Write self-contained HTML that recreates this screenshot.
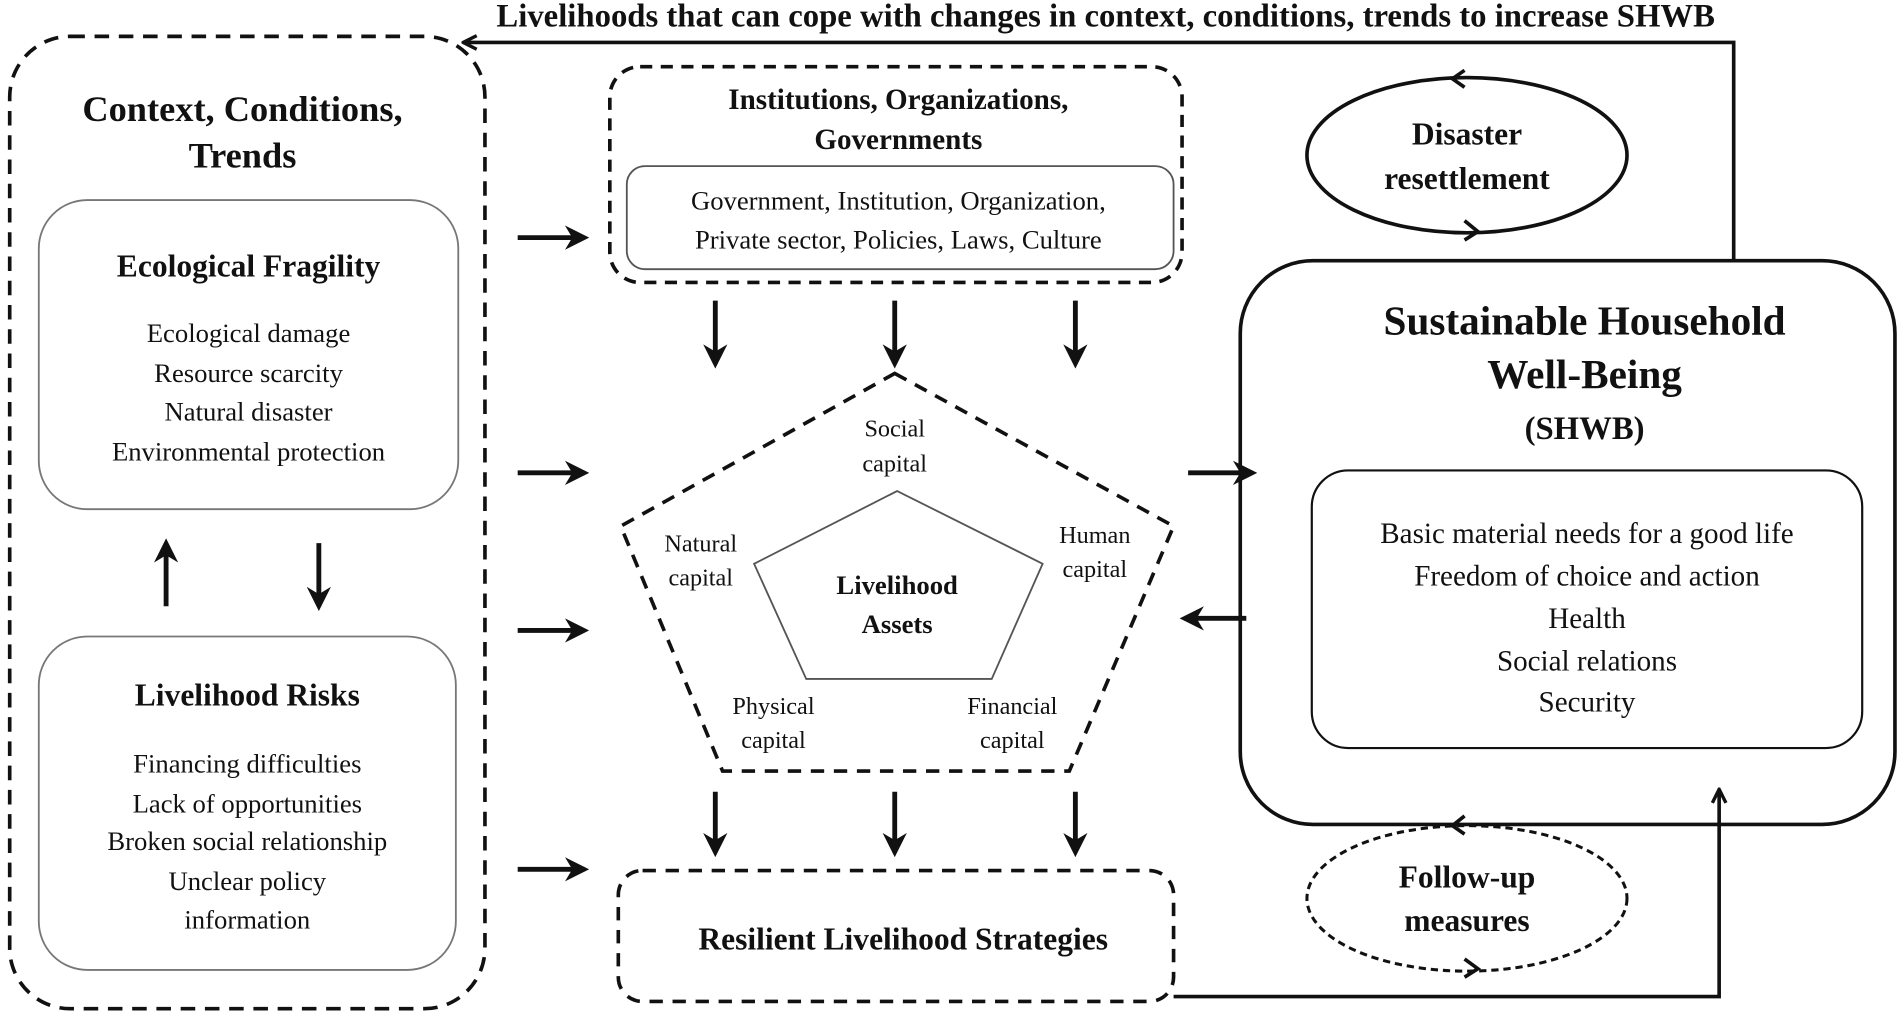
<!DOCTYPE html>
<html><head><meta charset="utf-8"><style>
html,body{margin:0;padding:0;background:#fff;}
svg{display:block;}
svg text{font-family:"Liberation Serif","Times New Roman",serif;fill:#111;}
.b{font-weight:bold;}
</style></head><body>
<svg width="1901" height="1016" viewBox="0 0 1568 838" preserveAspectRatio="none" xmlns="http://www.w3.org/2000/svg" font-family="Liberation Serif, Times New Roman, serif">
<defs>
<marker id="ah" viewBox="0 0 10 10" refX="8" refY="5" markerWidth="5" markerHeight="5" orient="auto"><path d="M0,0 L10,5 L0,10 L3,5 z" fill="#111"/></marker>
<marker id="ah2" viewBox="0 0 10 10" refX="9" refY="5" markerWidth="14" markerHeight="14" markerUnits="userSpaceOnUse" orient="auto"><path d="M1,1 L9,5 L1,9" fill="none" stroke="#111" stroke-width="2"/></marker>
</defs>
<g fill="none" stroke="#111">
<path d="M1430,215 L1430,35 L382,35" stroke-width="3" marker-end="url(#ah2)"/>
<rect x="8" y="30" width="392" height="802" rx="50" stroke-width="3" stroke-dasharray="12,8"/>
<rect x="32" y="165" width="346" height="255" rx="40" stroke="#777" stroke-width="1.5"/>
<rect x="32" y="525" width="344" height="275" rx="40" stroke="#777" stroke-width="1.5"/>
<rect x="503" y="55" width="472" height="178" rx="25" stroke-width="3" stroke-dasharray="10,7"/>
<rect x="517" y="137" width="451" height="85" rx="15" stroke="#555" stroke-width="1.5"/>
<polygon points="738,308 968,434 882,636 596,636 512,434" stroke-width="3" stroke-dasharray="11,8"/>
<polygon points="740,405 860,465 818,560 665,560 622,465" stroke="#555" stroke-width="1.5"/>
<rect x="510" y="718" width="458" height="108" rx="20" stroke-width="3" stroke-dasharray="11,8"/>
<rect x="1023" y="215" width="540" height="465" rx="60" stroke-width="3"/>
<rect x="1082" y="388" width="454" height="229" rx="30" stroke-width="1.8"/>
<ellipse cx="1210" cy="128" rx="132" ry="64" stroke-width="3"/>
<path d="M1208,58 L1198,65 L1208,72" stroke-width="3"/>
<path d="M1208,182 L1219,191 L1208,198" stroke-width="3"/>
<ellipse cx="1210" cy="741" rx="132" ry="60" stroke-width="2.5" stroke-dasharray="6,4"/>
<path d="M1208,673 L1198,681 L1208,688" stroke-width="3"/>
<path d="M1208,791 L1219,799 L1208,806" stroke-width="3"/>
<path d="M968,822 L1418,822 L1418,651" stroke-width="3" marker-end="url(#ah2)"/>
<g stroke-width="4" marker-end="url(#ah)">
<line x1="137" y1="500" x2="137" y2="448"/>
<line x1="263" y1="448" x2="263" y2="500"/>
<line x1="427" y1="196" x2="482" y2="196"/>
<line x1="427" y1="390" x2="482" y2="390"/>
<line x1="427" y1="520" x2="482" y2="520"/>
<line x1="427" y1="717" x2="482" y2="717"/>
<line x1="590" y1="248" x2="590" y2="300"/>
<line x1="738" y1="248" x2="738" y2="300"/>
<line x1="887" y1="248" x2="887" y2="300"/>
<line x1="590" y1="653" x2="590" y2="703"/>
<line x1="738" y1="653" x2="738" y2="703"/>
<line x1="887" y1="653" x2="887" y2="703"/>
<line x1="980" y1="390" x2="1033" y2="390"/>
<line x1="1028" y1="510" x2="977" y2="510"/>
</g>
</g>
<g text-anchor="middle">
<text x="912" y="22" class="b" font-size="27">Livelihoods that can cope with changes in context, conditions, trends to increase SHWB</text>
<text x="200" y="100" class="b" font-size="30">Context, Conditions,</text>
<text x="200" y="138" class="b" font-size="30">Trends</text>
<text x="205" y="228" class="b" font-size="26">Ecological Fragility</text>
<g font-size="22"><text x="205" y="282">Ecological damage</text><text x="205" y="315">Resource scarcity</text><text x="205" y="347">Natural disaster</text><text x="205" y="380">Environmental protection</text></g>
<text x="204" y="582" class="b" font-size="26">Livelihood Risks</text>
<g font-size="22"><text x="204" y="637">Financing difficulties</text><text x="204" y="670">Lack of opportunities</text><text x="204" y="701">Broken social relationship</text><text x="204" y="734">Unclear policy</text><text x="204" y="766">information</text></g>
<text x="741" y="90" class="b" font-size="24">Institutions, Organizations,</text>
<text x="741" y="123" class="b" font-size="24">Governments</text>
<g font-size="22"><text x="741" y="173">Government, Institution, Organization,</text><text x="741" y="205">Private sector, Policies, Laws, Culture</text></g>
<g font-size="20"><text x="738" y="360">Social</text><text x="738" y="389">capital</text>
<text x="578" y="455">Natural</text><text x="578" y="483">capital</text>
<text x="903" y="448">Human</text><text x="903" y="476">capital</text>
<text x="638" y="589">Physical</text><text x="638" y="617">capital</text>
<text x="835" y="589">Financial</text><text x="835" y="617">capital</text></g>
<text x="740" y="490" class="b" font-size="22">Livelihood</text>
<text x="740" y="522" class="b" font-size="22">Assets</text>
<text x="745" y="783" class="b" font-size="26">Resilient Livelihood Strategies</text>
<text x="1307" y="276" class="b" font-size="34">Sustainable Household</text>
<text x="1307" y="320" class="b" font-size="34">Well-Being</text>
<text x="1307" y="362" class="b" font-size="27">(SHWB)</text>
<g font-size="24"><text x="1309" y="448">Basic material needs for a good life</text><text x="1309" y="483">Freedom of choice and action</text><text x="1309" y="518">Health</text><text x="1309" y="553">Social relations</text><text x="1309" y="587">Security</text></g>
<text x="1210" y="119" class="b" font-size="26">Disaster</text>
<text x="1210" y="156" class="b" font-size="26">resettlement</text>
<text x="1210" y="732" class="b" font-size="26">Follow-up</text>
<text x="1210" y="768" class="b" font-size="26">measures</text>
</g>
</svg>
</body></html>
